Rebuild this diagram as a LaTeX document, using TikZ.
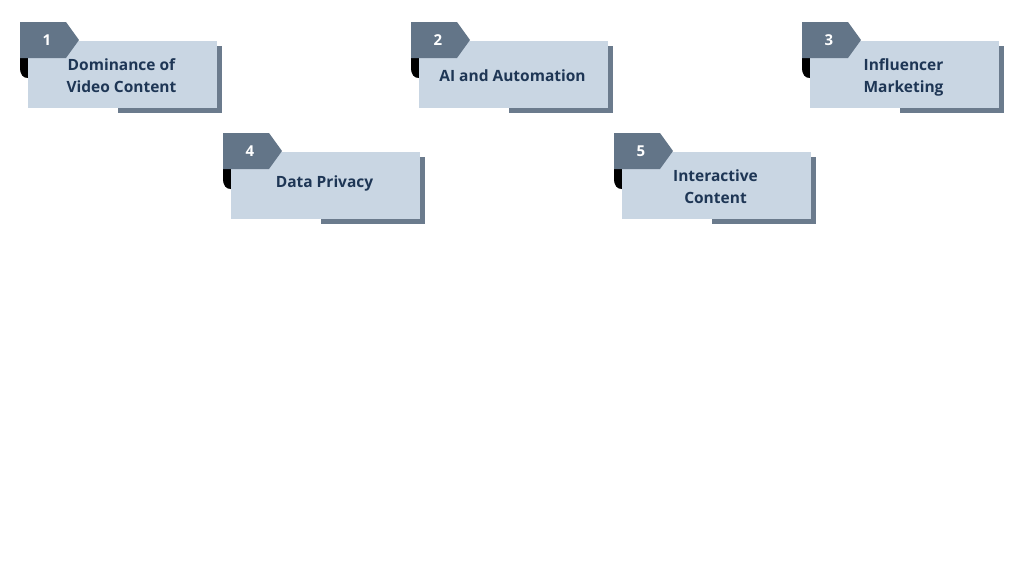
\documentclass[tikz,border=0pt]{standalone}
\usepackage{fontspec}
\setmainfont{Open Sans}
\usepackage{tikz}
\usetikzlibrary{calc}

\definecolor{cardfill}{HTML}{C9D6E3}
\definecolor{tabfill}{HTML}{637588}
\definecolor{shadowfill}{HTML}{6B7B8D}
\definecolor{textcol}{HTML}{1E3655}

\tikzset{
    card/.style={fill=cardfill, minimum width=189pt, minimum height=67pt,
        inner sep=0pt},
    cardtext/.style={align=center, text=textcol, inner sep=0pt,
        font=\fontsize{15.5}{22}\selectfont\bfseries},
    numtext/.style={text=white, inner sep=0pt,
        font=\fontsize{15}{16}\selectfont\bfseries}
}

\begin{document}
\begin{tikzpicture}[x=1pt,y=-1pt]

% Canvas
\useasboundingbox (0,0) rectangle (1024,576);

\foreach \dx/\dy/\ty/\n/\lbl in {0/0/2.5/1/{Dominance of\\Video Content},
    391/0/2.5/2/{AI and Automation},
    782/0/2.5/3/{Influencer\\Marketing},
    203/111/-2/4/{Data Privacy},
    594/111/2.5/5/{Interactive\\Content}}{
  \begin{scope}[shift={(\dx,\dy)}]
    % Shadow
    \fill[shadowfill] (118,46) rectangle (222,113);
    % Curl under the tab
    \fill[black] (28,57) -- (20,57) -- (20,67)
        .. controls (20,75) and (23,78) .. (28,78) -- cycle;
    % Card
    \node[card] (card\n) at (122.5,74.5) {};
    \node[cardtext] (lbl\n) at ($(card\n.center)+(-1,\ty)$) {\strut\lbl\strut};
    % Tab
    \fill[tabfill] (20,22) -- (66,22) -- (79,40) -- (66,58) -- (20,58) -- cycle;
    \node[numtext] (num\n) at (47,40) {\n};
  \end{scope}
}

\end{tikzpicture}
\end{document}
